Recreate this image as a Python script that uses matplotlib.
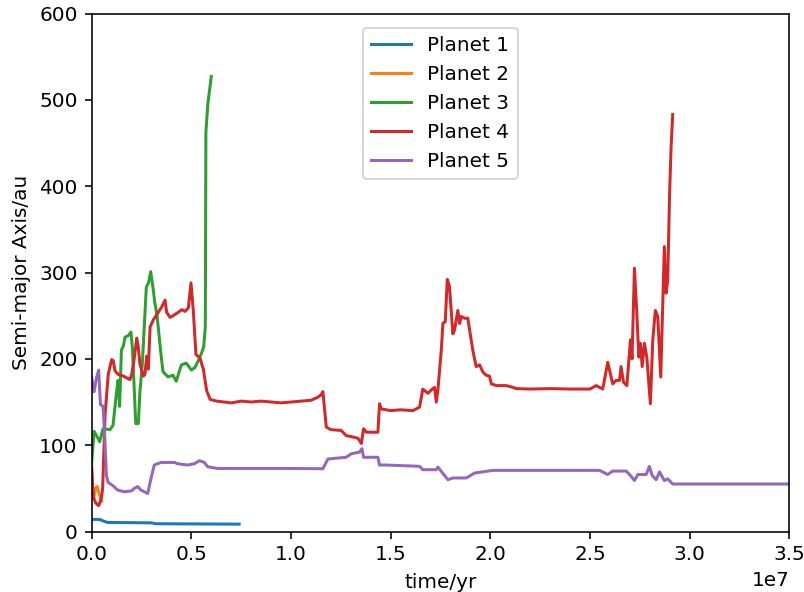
import matplotlib
matplotlib.use("Agg")
import matplotlib.pyplot as plt
import numpy as np

# Semi-major axis evolution of a five-planet system (time in Myr, a in au)
labels = ["Planet 1", "Planet 2", "Planet 3", "Planet 4", "Planet 5"]

t1 = [0.0, 0.4, 0.6, 0.8, 3.0, 3.2, 7.4]
a1 = [14, 14, 12, 10.5, 10, 9, 8.5]

t2 = [0.0, 0.1, 0.18, 0.28, 0.35, 0.45, 0.5]
a2 = [45, 38, 50, 52, 45, 38, 35]

t3 = [0.0, 0.12, 0.27, 0.40, 0.57, 0.92, 1.07, 1.23, 1.32, 1.40, 1.49, 1.59,
      1.67, 1.84, 1.97, 2.04, 2.14, 2.21, 2.34, 2.42, 2.54, 2.67, 2.74, 2.85,
      2.96, 3.09, 3.16, 3.28, 3.41, 3.51, 3.58, 3.83, 4.08, 4.24, 4.50, 4.75,
      5.00, 5.18, 5.33, 5.50, 5.62, 5.70, 5.73, 5.83, 6.0]
a3 = [80, 116, 110, 104, 119, 118, 123, 158, 175, 145, 210, 215,
      225, 227, 231, 213, 162, 125, 125, 162, 194, 252, 283, 288,
      301, 280, 266, 250, 220, 198, 185, 179, 181, 174, 193, 195,
      187, 190, 197, 206, 214, 237, 463, 496, 527]

t4 = [0.0, 0.08, 0.2, 0.35, 0.48, 0.55, 0.67, 0.83, 1.00, 1.08, 1.17, 1.33,
      1.59, 1.76, 1.92, 2.01, 2.14, 2.26, 2.34, 2.42, 2.59, 2.67, 2.76, 2.84,
      2.93, 3.09, 3.26, 3.51, 3.68, 3.76, 3.93, 4.09, 4.35, 4.52, 4.68, 4.85,
      4.98, 5.10, 5.23, 5.43, 5.60, 5.77, 5.94, 6.27, 7.0, 7.5, 8.0, 8.5,
      9.0, 9.5, 10.0, 10.5, 11.0, 11.3, 11.5, 11.6, 11.77, 12.0, 12.52, 12.77,
      13.0, 13.36, 13.53, 13.64, 13.78, 14.36, 14.44, 14.53, 15.0, 15.5, 16.11, 16.45,
      16.61, 16.87, 17.04, 17.20, 17.29, 17.37, 17.54, 17.62, 17.74, 17.84, 17.95, 18.12,
      18.20, 18.37, 18.46, 18.54, 18.71, 18.87, 19.12, 19.29, 19.46, 19.62, 19.79, 19.96,
      20.05, 20.30, 20.80, 21.13, 21.30, 22.0, 23.0, 24.0, 25.0, 25.31, 25.64, 25.89,
      26.14, 26.31, 26.48, 26.56, 26.68, 26.85, 27.03, 27.11, 27.23, 27.35, 27.45, 27.53,
      27.62, 27.73, 27.85, 28.03, 28.15, 28.28, 28.40, 28.55, 28.73, 28.82, 28.90, 28.99,
      29.07, 29.15]
a4 = [75, 40, 33, 30, 38, 50, 135, 182, 199, 198, 186, 182,
      180, 178, 176, 182, 201, 224, 213, 194, 180, 182, 203, 188,
      237, 245, 251, 260, 268, 254, 248, 250, 254, 257, 255, 259,
      288, 255, 205, 201, 188, 163, 153, 151, 149, 151, 150, 151,
      150, 149, 150, 151, 152, 155, 158, 162, 121, 118, 117, 111,
      110, 108, 102, 119, 115, 115, 148, 142, 140, 141, 140, 144,
      165, 160, 164, 167, 150, 164, 210, 241, 243, 292, 284, 229,
      233, 256, 241, 249, 247, 247, 210, 191, 193, 185, 181, 180,
      171, 169, 169, 167, 165.5, 165, 165.5, 165, 165, 169, 165, 196,
      171, 175, 175, 191, 173, 169, 222, 200, 305, 253, 202, 218,
      191, 218, 202, 148, 222, 256, 249, 179, 330, 276, 291, 388,
      446, 483]

t5 = [0.0, 0.12, 0.24, 0.35, 0.44, 0.57, 0.65, 0.74, 0.82, 1.07, 1.30, 1.64,
      1.99, 2.14, 2.31, 2.47, 2.81, 2.97, 3.14, 3.48, 4.15, 4.31, 4.81, 5.15,
      5.40, 5.65, 5.82, 6.32, 8.0, 10.0, 11.6, 11.85, 12.77, 13.02, 13.44, 13.56,
      13.64, 14.36, 14.44, 14.78, 16.45, 16.61, 17.29, 17.37, 17.87, 18.12, 18.79, 19.21,
      20.13, 25.48, 25.89, 26.14, 26.82, 27.07, 27.23, 27.40, 27.82, 27.98, 28.12, 28.32,
      28.49, 28.73, 28.90, 29.15, 35.0]
a5 = [178, 162, 178, 187, 147, 145, 112, 65, 57, 53, 48, 46,
      47, 50, 52, 48, 44, 61, 77, 80, 80, 78.5, 77, 78.5,
      82, 80, 75, 73, 73, 73, 72.7, 84, 86, 90, 92, 96,
      86, 86, 77, 77, 75.5, 71.6, 71.6, 74.6, 60, 62, 62, 67.7,
      70.8, 70.8, 66, 70, 70, 63.8, 59, 66, 66, 75.4, 65, 60,
      69, 59, 61, 55, 55]

times = [t1, t2, t3, t4, t5]
axes_vals = [a1, a2, a3, a4, a5]

DPI = 144
fig = plt.figure(figsize=(804 / DPI, 592 / DPI), dpi=DPI)
ax = fig.add_axes([91.7 / 804, (592 - 531.5) / 592, 697.6 / 804, 518 / 592])

for t, a, lab in zip(times, axes_vals, labels):
    ax.plot(np.asarray(t) * 1e6, a, label=lab)

ax.set_xlim(0, 3.5e7)
ax.set_ylim(0, 600)
ax.set_xlabel("time/yr")
ax.set_ylabel("Semi-major Axis/au")
ax.legend(loc="upper center", bbox_to_anchor=(0.5, 0.992))

fig.savefig("out.png", dpi=DPI)
